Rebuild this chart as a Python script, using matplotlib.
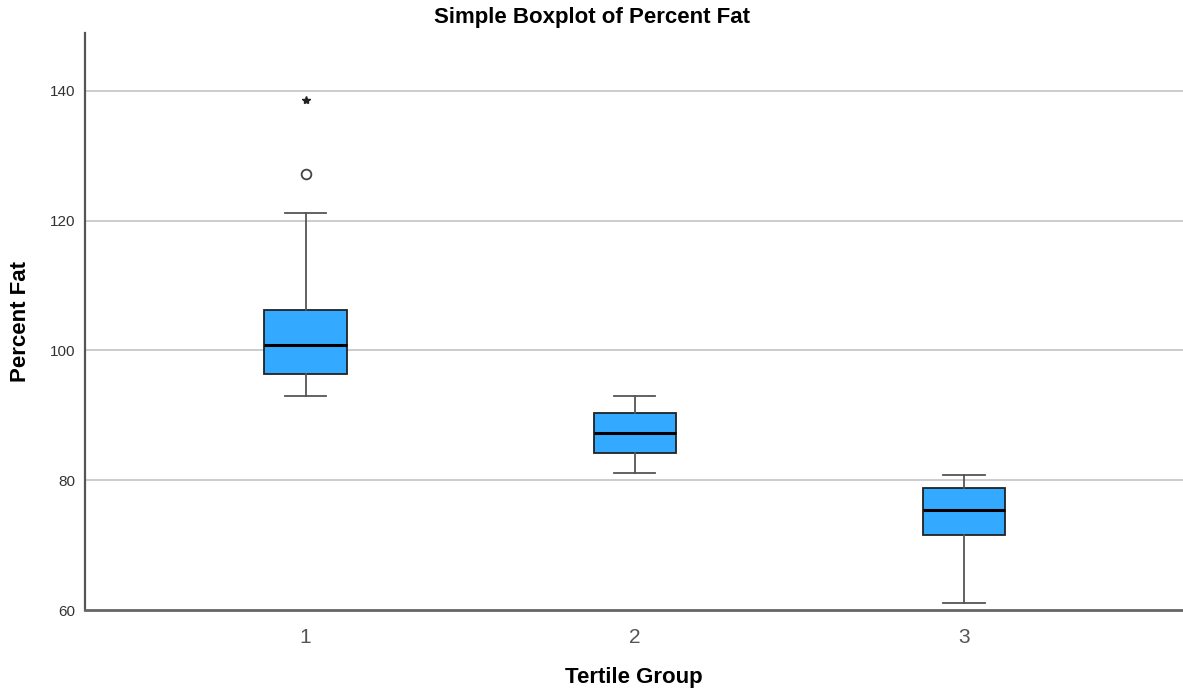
import matplotlib
matplotlib.use("Agg")
import matplotlib.pyplot as plt

plt.rcParams['font.family'] = ['Liberation Sans', 'DejaVu Sans']

groups = ["1", "2", "3"]
q1 = [96.4, 84.2, 71.5]
medians = [100.8, 87.3, 75.4]
q3 = [106.2, 90.4, 78.8]
whislo = [93.0, 81.1, 61.1]
whishi = [121.2, 93.0, 80.8]
mild_outliers = [[127.2], [], []]
extreme_outliers = [[138.6], [], []]
yticks = [60, 80, 100, 120, 140]

fig = plt.figure(figsize=(11.83, 6.94), dpi=100)
ax = fig.add_axes([85/1183, 84/694, 1 - 85/1183, (610-33)/694])

stats = []
for i, g in enumerate(groups):
    stats.append(dict(label=g, q1=q1[i], med=medians[i], q3=q3[i],
                      whislo=whislo[i], whishi=whishi[i], fliers=[]))

positions = [1, 2, 3]
ax.bxp(stats, positions=positions, widths=0.25, patch_artist=True, showfliers=False,
       boxprops=dict(facecolor='#33AAFF', edgecolor='#222222', linewidth=1.3),
       medianprops=dict(color='black', linewidth=2.2),
       whiskerprops=dict(color='#555555', linewidth=1.3),
       capprops=dict(color='#555555', linewidth=1.3),
       capwidths=0.125, zorder=3)

for i, p in enumerate(positions):
    if mild_outliers[i]:
        ax.plot([p]*len(mild_outliers[i]), mild_outliers[i], 'o', markersize=7,
                markerfacecolor='white', markeredgecolor='#444444', markeredgewidth=1.3, zorder=4)
    if extreme_outliers[i]:
        ax.plot([p]*len(extreme_outliers[i]), extreme_outliers[i], '*', markersize=6,
                color='#222222', zorder=4)

ax.set_xlim(0.33, 3.665)
ax.set_ylim(60, 148.9)
ax.set_yticks(yticks)
ax.set_yticklabels([str(t) for t in yticks], fontsize=11, color='#333333')
ax.set_xticks(positions)
ax.set_xticklabels(groups, fontsize=15, color='#555555')
ax.tick_params(axis='both', length=0)
ax.tick_params(axis='y', pad=7)
ax.tick_params(axis='x', pad=13)

for y in yticks[1:]:
    ax.axhline(y, color='#c8c8c8', linewidth=1.3, zorder=1)

for s in ['top', 'right']:
    ax.spines[s].set_visible(False)
ax.spines['left'].set_color('#555555')
ax.spines['left'].set_linewidth(1.6)
ax.spines['bottom'].set_color('#666666')
ax.spines['bottom'].set_linewidth(2.0)

ax.set_xlabel("Tertile Group", fontsize=16, fontweight='bold')
ax.xaxis.set_label_coords(0.5, -(667-610)/577)
ax.set_ylabel("Percent Fat", fontsize=16, fontweight='bold')
ax.yaxis.set_label_coords(-(85-31)/1098, 0.5)
fig.text(0.5, 1 - 18/694, "Simple Boxplot of Percent Fat", ha='center', va='center',
         fontsize=16, fontweight='bold')

fig.savefig("out.png", dpi=100)
